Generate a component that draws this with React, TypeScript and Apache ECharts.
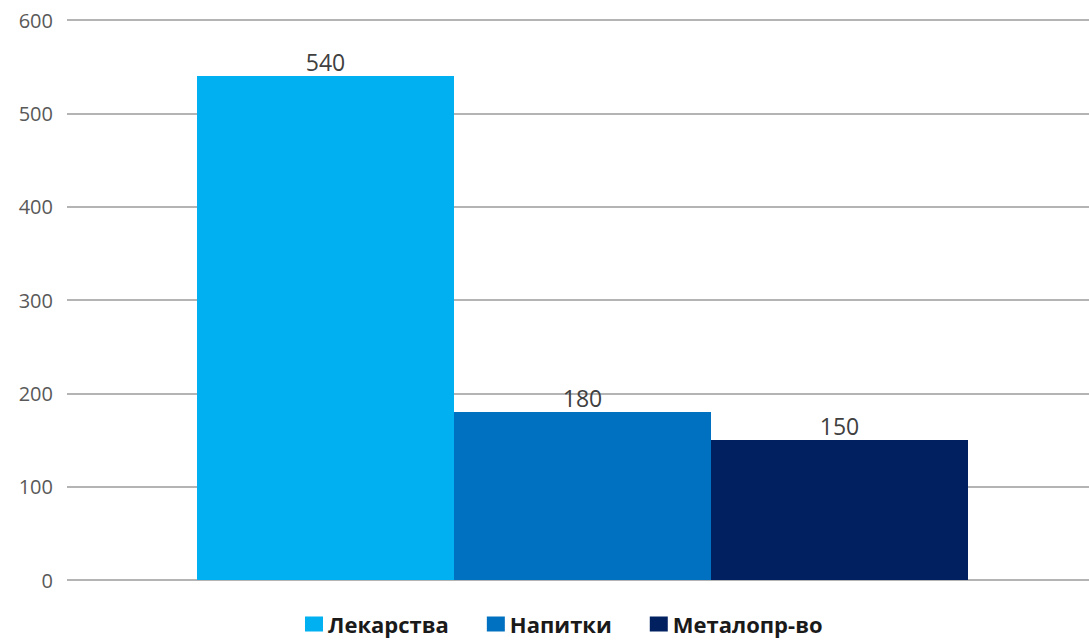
import React, { useEffect, useRef } from "react";
import * as echarts from "echarts";

const categories = [""];
const seriesNames = ["Лекарства", "Напитки", "Металопр-во"];
const seriesValues = [[540], [180], [150]];
const colors = ["#00B0F0", "#0070C0", "#002060"];
const yTicks = { min: 0, max: 600, interval: 100 };

export default function App() {
  const ref = useRef<HTMLDivElement>(null);
  useEffect(() => {
    const chart = echarts.init(ref.current!, null, { renderer: "svg" });
    chart.setOption({
      animation: false,
      textStyle: { fontFamily: "Open Sans" },
      grid: { left: 67, right: 0, top: 20, bottom: 60 },
      legend: {
        top: 612,
        left: 305,
        padding: 0,
        itemWidth: 18,
        itemHeight: 15,
        itemGap: 38,
        icon: "rect",
        textStyle: { fontSize: 22, lineHeight: 24, fontWeight: "bold", color: "#1a1a1a", fontFamily: "Open Sans" },
        data: seriesNames,
      },
      xAxis: {
        type: "category",
        data: categories,
        axisLine: { show: false },
        axisTick: { show: false },
        axisLabel: { show: false },
      },
      yAxis: {
        type: "value",
        min: yTicks.min,
        max: yTicks.max,
        interval: yTicks.interval,
        axisLine: { show: false },
        axisTick: { show: false },
        axisLabel: { fontSize: 20, color: "#595959", margin: 14 },
        splitLine: { lineStyle: { color: "#B4B4B4", width: 2 } },
      },
      series: seriesNames.map((name, i) => ({
        name,
        type: "bar",
        data: seriesValues[i],
        barWidth: 257,
        barGap: "0%",
        itemStyle: { color: colors[i] },
        label: {
          show: true,
          position: "top",
          distance: 3,
          fontSize: 23,
          color: "#404040",
          fontFamily: "Open Sans",
        },
      })),
    });
    return () => chart.dispose();
  }, []);
  return (
    <div style={{ position: "fixed", left: 0, top: 0, width: 1089, height: 640, overflow: "hidden", background: "#fff" }}>
      <div ref={ref} style={{ position: "absolute", left: 0, top: 0, width: 1098, height: 640 }} />
    </div>
  );
}
